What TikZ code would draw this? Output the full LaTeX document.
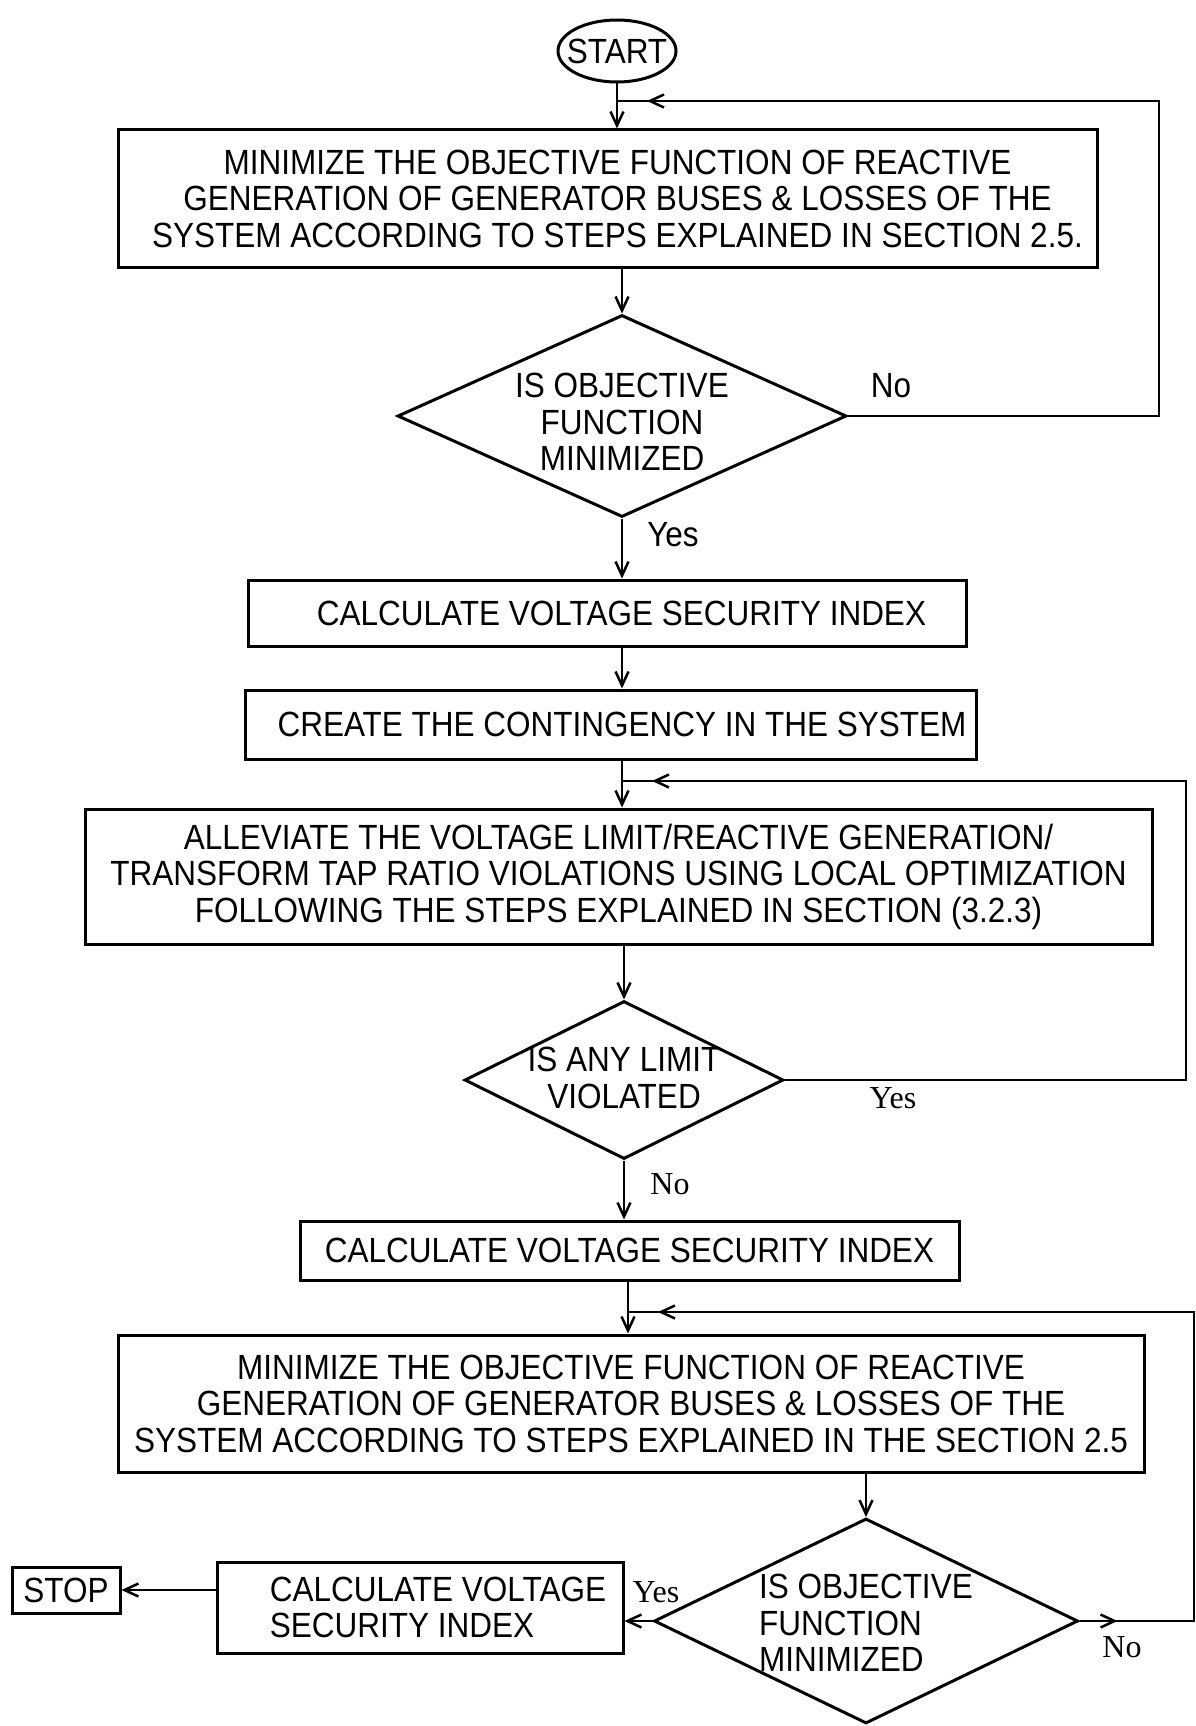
\documentclass[tikz,border=0pt]{standalone}
\usepackage{fontspec}
\setmainfont{Liberation Sans}[FakeStretch=0.90]
\newfontfamily\labelserif{Liberation Serif}
\usetikzlibrary{shapes.geometric,arrows.meta,decorations.markings}
\begin{document}
\begin{tikzpicture}[x=1pt,y=-1pt,
  font=\fontsize{35}{36.5}\selectfont,
  box/.style={draw, rectangle, line width=3pt, inner sep=0pt, align=center},
  dia/.style={draw, diamond, line width=3pt, inner sep=0pt},
  term/.style={draw, ellipse, line width=3pt, inner sep=0pt},
  tip/.style={-{Straight Barb[length=14pt,width=13pt,line width=2.5pt]}},
  arr/.style={line width=2.5pt, tip},
  loopline/.style={line width=2.5pt,
    decoration={markings, mark=at position -30pt with {\arrow{Straight Barb[length=14pt,width=13pt,line width=2.5pt]}}},
    postaction={decorate}},
  loopline3/.style={line width=2.5pt,
    decoration={markings,
      mark=at position 38pt with {\arrow{Straight Barb[length=14pt,width=13pt,line width=2.5pt]}},
      mark=at position -30pt with {\arrow{Straight Barb[length=14pt,width=13pt,line width=2.5pt]}}},
    postaction={decorate}},
  lbl/.style={inner sep=0pt},
  slbl/.style={inner sep=0pt, font=\labelserif\fontsize{32}{34}\selectfont}]
\fill[white] (0,0) rectangle (1196,1726);
\useasboundingbox (0,0) rectangle (1196,1726);

% nodes
\node[term, minimum width=118, minimum height=62] (start) at (617,51) {\makebox[0pt]{START}};
\node[box, minimum width=979, minimum height=137] (b1) at (607.5,198.5)
  {\hspace*{20pt}MINIMIZE THE OBJECTIVE FUNCTION OF REACTIVE\\\hspace*{20pt}GENERATION OF GENERATOR BUSES \& LOSSES OF THE\\\hspace*{20pt}SYSTEM ACCORDING TO STEPS EXPLAINED IN SECTION 2.5.};
\node[dia, minimum width=449, minimum height=202] (d1) at (622,416)
  {\makebox[0pt]{\smash{\raisebox{-17pt}{\begin{tabular}{@{}c@{}}IS OBJECTIVE\\FUNCTION\\MINIMIZED\end{tabular}}}}};
\node[box, minimum width=718, minimum height=66] (b2) at (607,613)
  {\hspace*{29pt}CALCULATE VOLTAGE SECURITY INDEX};
\node[box, minimum width=731, minimum height=69] (b3) at (610.5,724.5)
  {\hspace*{23pt}CREATE THE CONTINGENCY IN THE SYSTEM};
\node[box, minimum width=1067, minimum height=135] (b4) at (618.5,876.5)
  {ALLEVIATE THE VOLTAGE LIMIT/REACTIVE GENERATION/\\TRANSFORM TAP RATIO VIOLATIONS USING LOCAL OPTIMIZATION\\FOLLOWING THE STEPS EXPLAINED IN SECTION (3.2.3)};
\node[dia, minimum width=319, minimum height=158] (d2) at (624,1080)
  {\makebox[0pt]{\smash{\raisebox{-9pt}{\begin{tabular}{@{}c@{}}IS ANY LIMIT\\VIOLATED\end{tabular}}}}};
\node[box, minimum width=659, minimum height=59] (b5) at (629.5,1250.5)
  {CALCULATE VOLTAGE SECURITY INDEX};
\node[box, minimum width=1026, minimum height=137] (b6) at (631,1403.5)
  {MINIMIZE THE OBJECTIVE FUNCTION OF REACTIVE\\GENERATION OF GENERATOR BUSES \& LOSSES OF THE\\SYSTEM ACCORDING TO STEPS EXPLAINED IN THE SECTION 2.5};
\node[dia, minimum width=424, minimum height=205] (d3) at (866,1621)
  {\makebox[0pt]{\smash{\raisebox{-13pt}{\begin{tabular}{@{}l@{}}IS OBJECTIVE\\FUNCTION\\MINIMIZED\end{tabular}}}}};
\node[box, minimum width=406, minimum height=91, align=left] (b7) at (420,1607.5)
  {\hspace*{36pt}CALCULATE VOLTAGE\\\hspace*{36pt}SECURITY INDEX};
\node[box, minimum width=108, minimum height=46] (stop) at (66,1590) {STOP};

% labels
\node[lbl] (no1) at (891,386) {No};
\node[lbl] (yes1) at (673,535) {Yes};
\node[slbl] (yes2) at (893,1098) {Yes};
\node[slbl] (no2) at (670,1184) {No};
\node[slbl] (yes3) at (656,1592) {Yes};
\node[slbl] (no3) at (1122,1647) {No};

% helper coordinates
\coordinate (ax) at (622,0);
\coordinate (ax2) at (628,0);
\coordinate (j1) at (617,101);
\coordinate (r1) at (1159,101);
\coordinate (j2) at (622,781);
\coordinate (r2) at (1186,781);
\coordinate (j3) at (628,1312);
\coordinate (r3) at (1194,1312);

% connectors
\draw[arr] (start.south) -- (b1.north -| start.south);
\draw[arr] (b1.south -| d1.north) -- (d1.north);
\draw[loopline] (d1.east) -| (r1) -- (j1);
\draw[arr] (d1.south) -- (d1.south |- b2.north);
\draw[arr] (b2.south -| ax) -- (b3.north -| ax);
\draw[arr] (b3.south -| ax) -- (b4.north -| ax);
\draw[loopline] (d2.east) -| (r2) -- (j2);
\draw[arr] (b4.south -| d2.north) -- (d2.north);
\draw[arr] (d2.south) -- (d2.south |- b5.north);
\draw[arr] (b5.south -| ax2) -- (b6.north -| ax2);
\draw[arr] (b6.south -| d3.north) -- (d3.north);
\draw[loopline3] (d3.east) -| (r3) -- (j3);
\draw[arr] (d3.west) -- (d3.west -| b7.east);
\draw[arr] (b7.west |- stop.east) -- (stop.east);
\end{tikzpicture}
\end{document}
